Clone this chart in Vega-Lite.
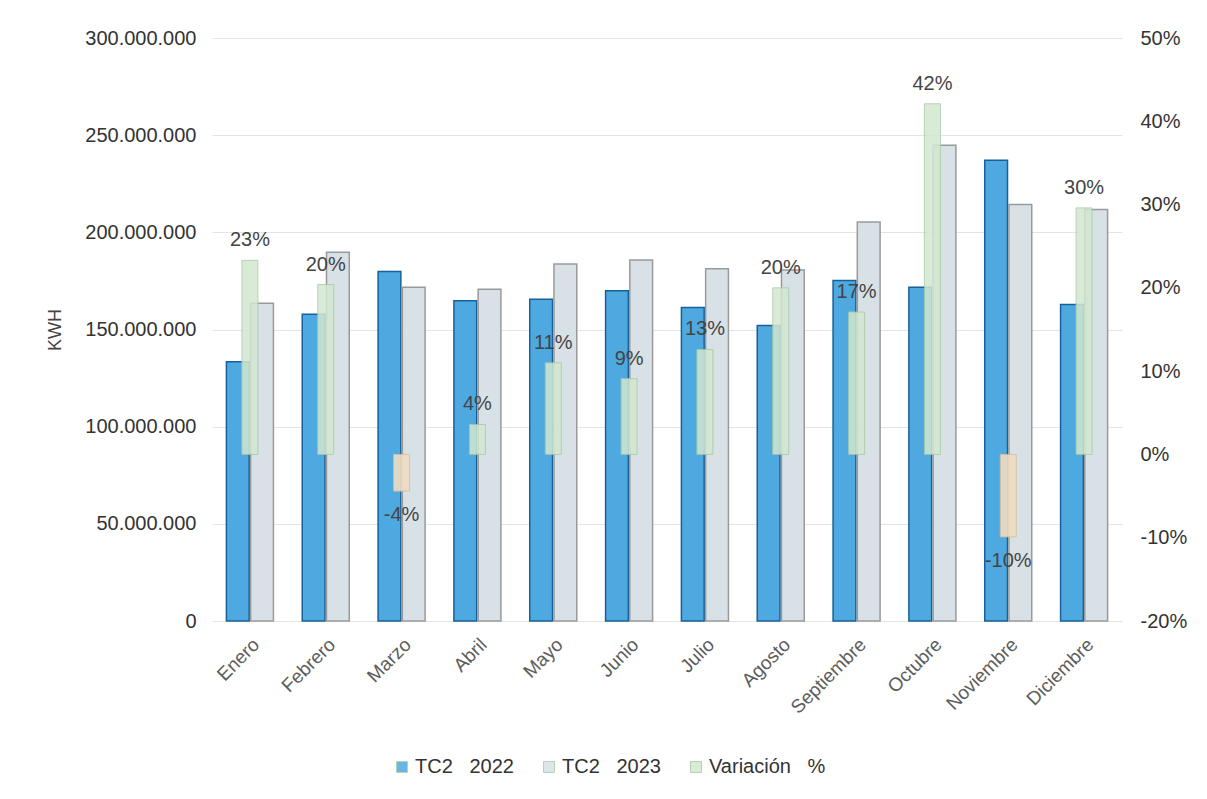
{
  "$schema": "https://vega.github.io/schema/vega-lite/v6.json",
  "width": 910,
  "height": 583,
  "autosize": "none",
  "padding": {"left": 212, "top": 38, "right": 85, "bottom": 178},
  "background": "white",
  "config": {
    "locale": {"number": {"decimal": ",", "thousands": ".", "grouping": [3], "currency": ["", ""], "minus": "-"}},
    "view": {"stroke": null},
    "font": "Liberation Sans",
    "axis": {"domain": false, "ticks": false}
  },
  "datasets": {
    "bars": [
      {"mes": "Enero", "serie": "TC2\u00a0\u00a0 2022", "kwh": 133400000},
      {"mes": "Enero", "serie": "TC2\u00a0\u00a0 2023", "kwh": 163500000},
      {"mes": "Febrero", "serie": "TC2\u00a0\u00a0 2022", "kwh": 157800000},
      {"mes": "Febrero", "serie": "TC2\u00a0\u00a0 2023", "kwh": 189800000},
      {"mes": "Marzo", "serie": "TC2\u00a0\u00a0 2022", "kwh": 179800000},
      {"mes": "Marzo", "serie": "TC2\u00a0\u00a0 2023", "kwh": 171700000},
      {"mes": "Abril", "serie": "TC2\u00a0\u00a0 2022", "kwh": 164800000},
      {"mes": "Abril", "serie": "TC2\u00a0\u00a0 2023", "kwh": 170700000},
      {"mes": "Mayo", "serie": "TC2\u00a0\u00a0 2022", "kwh": 165600000},
      {"mes": "Mayo", "serie": "TC2\u00a0\u00a0 2023", "kwh": 183700000},
      {"mes": "Junio", "serie": "TC2\u00a0\u00a0 2022", "kwh": 169900000},
      {"mes": "Junio", "serie": "TC2\u00a0\u00a0 2023", "kwh": 185700000},
      {"mes": "Julio", "serie": "TC2\u00a0\u00a0 2022", "kwh": 161300000},
      {"mes": "Julio", "serie": "TC2\u00a0\u00a0 2023", "kwh": 181300000},
      {"mes": "Agosto", "serie": "TC2\u00a0\u00a0 2022", "kwh": 152100000},
      {"mes": "Agosto", "serie": "TC2\u00a0\u00a0 2023", "kwh": 180600000},
      {"mes": "Septiembre", "serie": "TC2\u00a0\u00a0 2022", "kwh": 175200000},
      {"mes": "Septiembre", "serie": "TC2\u00a0\u00a0 2023", "kwh": 205300000},
      {"mes": "Octubre", "serie": "TC2\u00a0\u00a0 2022", "kwh": 171700000},
      {"mes": "Octubre", "serie": "TC2\u00a0\u00a0 2023", "kwh": 244800000},
      {"mes": "Noviembre", "serie": "TC2\u00a0\u00a0 2022", "kwh": 237100000},
      {"mes": "Noviembre", "serie": "TC2\u00a0\u00a0 2023", "kwh": 214300000},
      {"mes": "Diciembre", "serie": "TC2\u00a0\u00a0 2022", "kwh": 162900000},
      {"mes": "Diciembre", "serie": "TC2\u00a0\u00a0 2023", "kwh": 211800000}
    ],
    "vari": [
      {"mes": "Enero", "serie": "Variación\u00a0\u00a0 %", "var": 0.233},
      {"mes": "Febrero", "serie": "Variación\u00a0\u00a0 %", "var": 0.204},
      {"mes": "Marzo", "serie": "Variación\u00a0\u00a0 %", "var": -0.044},
      {"mes": "Abril", "serie": "Variación\u00a0\u00a0 %", "var": 0.036},
      {"mes": "Mayo", "serie": "Variación\u00a0\u00a0 %", "var": 0.11},
      {"mes": "Junio", "serie": "Variación\u00a0\u00a0 %", "var": 0.091},
      {"mes": "Julio", "serie": "Variación\u00a0\u00a0 %", "var": 0.126},
      {"mes": "Agosto", "serie": "Variación\u00a0\u00a0 %", "var": 0.2},
      {"mes": "Septiembre", "serie": "Variación\u00a0\u00a0 %", "var": 0.171},
      {"mes": "Octubre", "serie": "Variación\u00a0\u00a0 %", "var": 0.421},
      {"mes": "Noviembre", "serie": "Variación\u00a0\u00a0 %", "var": -0.099},
      {"mes": "Diciembre", "serie": "Variación\u00a0\u00a0 %", "var": 0.296}
    ]
  },
  "layer": [
    {
      "data": {"name": "bars"},
      "mark": {"type": "bar", "strokeWidth": 1.5},
      "encoding": {
        "x": {
          "field": "mes", "type": "nominal",
          "sort": ["Enero", "Febrero", "Marzo", "Abril", "Mayo", "Junio", "Julio", "Agosto", "Septiembre", "Octubre", "Noviembre", "Diciembre"],
          "scale": {"paddingInner": 0.38, "paddingOuter": 0.19},
          "axis": {"title": null, "labelAngle": -45, "labelFontSize": 19, "labelColor": "#5c5c5c", "labelPadding": 14, "grid": false}
        },
        "xOffset": {"field": "serie", "type": "nominal", "scale": {"domain": ["TC2\u00a0\u00a0 2022", "TC2\u00a0\u00a0 2023"], "paddingInner": 0.06}},
        "y": {
          "field": "kwh", "type": "quantitative",
          "scale": {"domain": [0, 300000000]},
          "axis": {
            "values": [0, 50000000, 100000000, 150000000, 200000000, 250000000, 300000000],
            "format": ",d", "title": "KWH", "titleFontSize": 18, "titleFontWeight": "normal", "titleColor": "#444444",
            "titlePadding": 20, "labelFontSize": 20, "labelColor": "#333333", "labelPadding": 16,
            "grid": true, "gridColor": "#e4e4e4"
          }
        },
        "color": {
          "field": "serie", "type": "nominal",
          "scale": {"domain": ["TC2\u00a0\u00a0 2022", "TC2\u00a0\u00a0 2023", "Variación\u00a0\u00a0 %"], "range": ["#4fa9e1", "#d8e1e6", "#d3e8d1"]},
          "legend": {
            "title": null, "orient": "none", "direction": "horizontal", "legendX": 180, "legendY": 719,
            "symbolType": "square", "symbolSize": 120, "symbolStrokeWidth": 1, "labelFontSize": 20, "labelColor": "#333333",
            "labelFont": "Liberation Sans", "columnPadding": 25, "labelOffset": 3
          }
        },
        "stroke": {
          "field": "serie", "type": "nominal",
          "scale": {"domain": ["TC2\u00a0\u00a0 2022", "TC2\u00a0\u00a0 2023"], "range": ["#17609a", "#9a9a9a"]},
          "legend": null
        }
      }
    },
    {
      "data": {"name": "vari"},
      "layer": [
        {
          "transform": [{"filter": "datum.var >= 0"}],
          "mark": {"type": "bar", "width": 16, "opacity": 0.85, "stroke": "#a8cca5", "strokeWidth": 1},
          "encoding": {
            "x": {"field": "mes", "type": "nominal", "sort": ["Enero", "Febrero", "Marzo", "Abril", "Mayo", "Junio", "Julio", "Agosto", "Septiembre", "Octubre", "Noviembre", "Diciembre"]},
            "y": {
              "field": "var", "type": "quantitative",
              "scale": {"domain": [-0.2, 0.5]},
              "axis": {"orient": "right", "values": [-0.2, -0.1, 0, 0.1, 0.2, 0.3, 0.4, 0.5], "format": ".0%", "title": null,
                "labelFontSize": 20, "labelColor": "#333333", "labelPadding": 18, "grid": false}
            },
            "y2": {"datum": 0},
            "color": {"field": "serie", "type": "nominal"}
          }
        },
        {
          "transform": [{"filter": "datum.var < 0"}],
          "mark": {"type": "bar", "width": 16, "opacity": 0.9, "color": "#f1ddc3", "stroke": "#d6c09e", "strokeWidth": 1},
          "encoding": {
            "x": {"field": "mes", "type": "nominal", "sort": ["Enero", "Febrero", "Marzo", "Abril", "Mayo", "Junio", "Julio", "Agosto", "Septiembre", "Octubre", "Noviembre", "Diciembre"]},
            "y": {"field": "var", "type": "quantitative"},
            "y2": {"datum": 0}
          }
        },
        {
          "transform": [{"filter": "datum.var >= 0"}],
          "mark": {"type": "text", "baseline": "bottom", "dy": -10, "fontSize": 20, "color": "#444444"},
          "encoding": {
            "x": {"field": "mes", "type": "nominal", "sort": ["Enero", "Febrero", "Marzo", "Abril", "Mayo", "Junio", "Julio", "Agosto", "Septiembre", "Octubre", "Noviembre", "Diciembre"]},
            "y": {"field": "var", "type": "quantitative"},
            "text": {"field": "var", "type": "quantitative", "format": ".0%"}
          }
        },
        {
          "transform": [{"filter": "datum.var < 0"}],
          "mark": {"type": "text", "baseline": "top", "dy": 14, "fontSize": 20, "color": "#444444"},
          "encoding": {
            "x": {"field": "mes", "type": "nominal", "sort": ["Enero", "Febrero", "Marzo", "Abril", "Mayo", "Junio", "Julio", "Agosto", "Septiembre", "Octubre", "Noviembre", "Diciembre"]},
            "y": {"field": "var", "type": "quantitative"},
            "text": {"field": "var", "type": "quantitative", "format": ".0%"}
          }
        }
      ]
    }
  ],
  "resolve": {"scale": {"y": "independent", "stroke": "independent"}}
}
